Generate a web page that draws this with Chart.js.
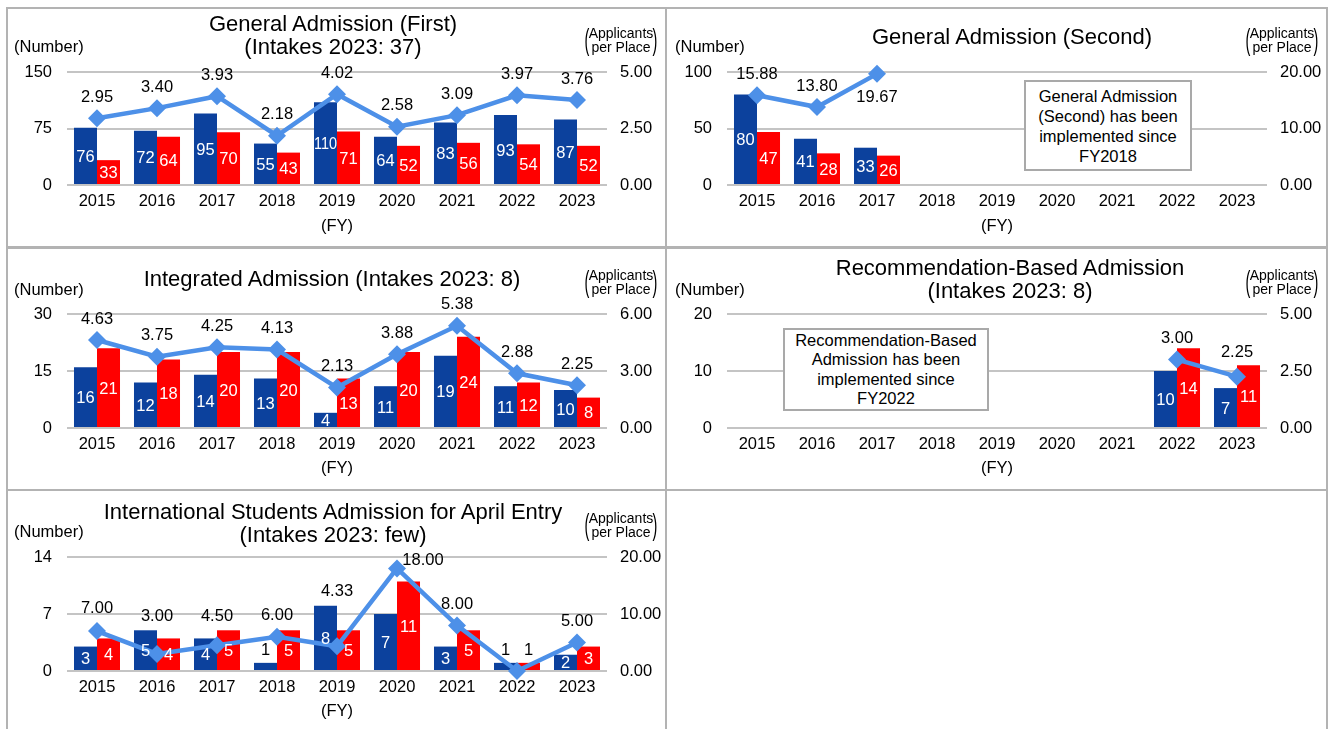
<!DOCTYPE html>
<html>
<head>
<meta charset="utf-8">
<title>Admission results</title>
<script src="https://cdn.jsdelivr.net/npm/chart.js@4.4.1/dist/chart.umd.min.js"></script>
<style>
  body { margin: 0; width: 1338px; height: 729px; overflow: hidden; position: relative; background: #fff;
         font-family: "Liberation Sans", Arial, sans-serif; color: #000; }
  .box { position: absolute; border: 2px solid #b3b3b3; box-sizing: border-box; }
  canvas { position: absolute; }
  .title { position: absolute; font-size: 22px; line-height: 23px; text-align: center; white-space: nowrap; transform: translateX(-50%); }
  .unit { position: absolute; font-size: 16.5px; line-height: 18px; white-space: nowrap; }
  .fy { position: absolute; font-size: 16.5px; line-height: 18px; transform: translateX(-50%); }
  .ratio-unit { position: absolute; display: flex; align-items: center; font-size: 14px; line-height: 14px; transform: translateX(-50%); white-space: nowrap; }
  .ratio-unit .p { font-size: 29px; line-height: 28px; display: inline-block; transform: scaleX(.5); margin: 0 -3px; }
  .ratio-unit .txt { text-align: center; }
  .note { position: absolute; background: #fff; border: 2px solid #a9a9a9; box-sizing: border-box; display: flex;
          align-items: center; justify-content: center; text-align: center; font-size: 16.5px; }
</style>
</head>
<body>
<div class="box" style="left:6px;top:7px;width:661px;height:242px"></div>
<div class="box" style="left:665px;top:7px;width:663px;height:242px"></div>
<div class="box" style="left:6px;top:246px;width:661px;height:245px"></div>
<div class="box" style="left:665px;top:246px;width:663px;height:245px"></div>
<div class="box" style="left:6px;top:489px;width:661px;height:260px"></div>
<div class="box" style="left:665px;top:489px;width:663px;height:260px"></div>
<script>
const years = ['2015', '2016', '2017', '2018', '2019', '2020', '2021', '2022', '2023'];

// General Admission (First)
const firstBlue = [76, 72, 95, 55, 110, 64, 83, 93, 87];
const firstRed = [33, 64, 70, 43, 71, 52, 56, 54, 52];
const firstRatio = [2.95, 3.40, 3.93, 2.18, 4.02, 2.58, 3.09, 3.97, 3.76];
const firstLeftTicks = [0, 75, 150];
const firstRightTicks = [0, 2.5, 5];

// General Admission (Second)
const secondBlue = [80, 41, 33, null, null, null, null, null, null];
const secondRed = [47, 28, 26, null, null, null, null, null, null];
const secondRatio = [15.88, 13.80, 19.67, null, null, null, null, null, null];
const secondLeftTicks = [0, 50, 100];
const secondRightTicks = [0, 10, 20];

// Integrated Admission
const integBlue = [16, 12, 14, 13, 4, 11, 19, 11, 10];
const integRed = [21, 18, 20, 20, 13, 20, 24, 12, 8];
const integRatio = [4.63, 3.75, 4.25, 4.13, 2.13, 3.88, 5.38, 2.88, 2.25];
const integLeftTicks = [0, 15, 30];
const integRightTicks = [0, 3, 6];

// Recommendation-Based Admission
const recBlue = [null, null, null, null, null, null, null, 10, 7];
const recRed = [null, null, null, null, null, null, null, 14, 11];
const recRatio = [null, null, null, null, null, null, null, 3.00, 2.25];
const recLeftTicks = [0, 10, 20];
const recRightTicks = [0, 2.5, 5];

// International Students Admission for April Entry
const intlBlue = [3, 5, 4, 1, 8, 7, 3, 1, 2];
const intlRed = [4, 4, 5, 5, 5, 11, 5, 1, 3];
const intlRatio = [7.00, 3.00, 4.50, 6.00, 4.33, 18.00, 8.00, 0, 5.00];
const intlLeftTicks = [0, 7, 14];
const intlRightTicks = [0, 10, 20];

const FONT = '"Liberation Sans", Arial, sans-serif';
const BLUE = '#0c419d';
const RED = '#ff0000';
const LINE = '#4d90e8';

Chart.defaults.font.family = FONT;
Chart.defaults.font.size = 16.5;
Chart.defaults.color = '#000';

// ratio labels sit above the point unless moved here
const valueLabels = {
    id: 'valueLabels',
    afterDatasetsDraw(chart, args, opts) {
        const ctx = chart.ctx;
        ctx.save();
        ctx.font = '16.5px ' + FONT;
        ctx.textAlign = 'center';
        ctx.textBaseline = 'middle';
        chart.data.datasets.forEach((ds, i) => {
            const meta = chart.getDatasetMeta(i);
            meta.data.forEach((el, j) => {
                const v = ds.data[j];
                if (v == null) return;
                if (ds.type === 'line') {
                    if (v <= 0) return;
                    const off = (opts.shift && opts.shift[j]) || [0, -21];
                    ctx.fillStyle = '#000';
                    ctx.fillText(v.toFixed(2), el.x + off[0], el.y + off[1]);
                } else {
                    const h = el.base - el.y;
                    if (h >= 14) {
                        ctx.fillStyle = '#fff';
                        ctx.fillText(String(v), el.x, (el.y + el.base) / 2 + 1.5, el.width);
                    } else {
                        ctx.fillStyle = '#000';
                        ctx.fillText(String(v), el.x, el.y - 12);
                    }
                }
            });
        });
        ctx.restore();
    }
};

const panels = [
    { left: 7, top: 8, width: 659, areaTop: 64, areaBottom: 177,
      blue: firstBlue, red: firstRed, ratio: firstRatio,
      leftTicks: firstLeftTicks, rightTicks: firstRightTicks, shift: {} },
    { left: 667, top: 8, width: 660, areaTop: 64, areaBottom: 177,
      blue: secondBlue, red: secondRed, ratio: secondRatio,
      leftTicks: secondLeftTicks, rightTicks: secondRightTicks, shift: { 2: [0, 24] } },
    { left: 7, top: 247, width: 659, areaTop: 67, areaBottom: 181,
      blue: integBlue, red: integRed, ratio: integRatio,
      leftTicks: integLeftTicks, rightTicks: integRightTicks, shift: {} },
    { left: 667, top: 247, width: 660, areaTop: 67, areaBottom: 181,
      blue: recBlue, red: recRed, ratio: recRatio,
      leftTicks: recLeftTicks, rightTicks: recRightTicks, shift: { 8: [0, -24] } },
    { left: 7, top: 490, width: 659, areaTop: 67, areaBottom: 181,
      blue: intlBlue, red: intlRed, ratio: intlRatio,
      leftTicks: intlLeftTicks, rightTicks: intlRightTicks,
      shift: { 0: [0, -23], 1: [0, -37], 2: [0, -29], 4: [0, -55], 5: [26, -8] } }
];

function drawPanel(p) {
    const H = 240;
    const canvas = document.createElement('canvas');
    canvas.width = p.width;
    canvas.height = H;
    canvas.style.left = p.left + 'px';
    canvas.style.top = p.top + 'px';
    canvas.style.width = p.width + 'px';
    canvas.style.height = H + 'px';
    document.body.appendChild(canvas);

    const lt = p.leftTicks, rt = p.rightTicks;

    new Chart(canvas, {
        type: 'bar',
        data: {
            labels: years,
            datasets: [
                {
                    type: 'line',
                    data: p.ratio,
                    yAxisID: 'y1',
                    order: 0,
                    borderColor: LINE,
                    backgroundColor: LINE,
                    borderWidth: 4.5,
                    pointStyle: 'rectRot',
                    pointRadius: 9,
                    pointBackgroundColor: LINE,
                    pointBorderWidth: 0,
                    tension: 0,
                    spanGaps: false,
                    clip: false
                },
                {
                    data: p.blue,
                    yAxisID: 'y',
                    order: 1,
                    backgroundColor: BLUE,
                    borderWidth: 0,
                    categoryPercentage: 0.767,
                    barPercentage: 1
                },
                {
                    data: p.red,
                    yAxisID: 'y',
                    order: 1,
                    backgroundColor: RED,
                    borderWidth: 0,
                    categoryPercentage: 0.767,
                    barPercentage: 1
                }
            ]
        },
        options: {
            responsive: false,
            animation: false,
            devicePixelRatio: 1,
            layout: { padding: { top: p.areaTop, left: 0, right: 0, bottom: 0 } },
            plugins: {
                legend: { display: false },
                tooltip: { enabled: false },
                valueLabels: { shift: p.shift }
            },
            scales: {
                x: {
                    grid: { display: false, drawTicks: false },
                    border: { display: false },
                    ticks: { padding: 7, maxRotation: 0, autoSkip: false },
                    afterFit(s) { s.height = H - p.areaBottom; }
                },
                y: {
                    position: 'left',
                    min: lt[0],
                    max: lt[lt.length - 1],
                    ticks: { stepSize: lt[1] - lt[0], padding: 15 },
                    grid: { color: '#c4c4c4', lineWidth: 2, drawTicks: false },
                    border: { display: false },
                    afterFit(s) { s.width = 60; }
                },
                y1: {
                    position: 'right',
                    min: rt[0],
                    max: rt[rt.length - 1],
                    ticks: { stepSize: rt[1] - rt[0], padding: 13, callback: v => v.toFixed(2) },
                    grid: { display: false, drawTicks: false },
                    border: { display: false },
                    afterFit(s) { s.width = p.width - 600; }
                }
            }
        },
        plugins: [valueLabels]
    });
}

panels.forEach(drawPanel);
</script>

<div class="title" style="left:333px;top:11.5px">General Admission (First)<br>(Intakes 2023: 37)</div>
<div class="title" style="left:1012px;top:24.5px">General Admission (Second)</div>
<div class="title" style="left:332px;top:266.5px">Integrated Admission (Intakes 2023: 8)</div>
<div class="title" style="left:1010px;top:255.5px">Recommendation-Based Admission<br>(Intakes 2023: 8)</div>
<div class="title" style="left:333px;top:499.5px">International Students Admission for April Entry<br>(Intakes 2023: few)</div>

<div class="unit" style="left:14px;top:37px">(Number)</div>
<div class="unit" style="left:675px;top:37px">(Number)</div>
<div class="unit" style="left:14px;top:280px">(Number)</div>
<div class="unit" style="left:675px;top:280px">(Number)</div>
<div class="unit" style="left:14px;top:522px">(Number)</div>

<div class="ratio-unit" style="left:621px;top:26px"><span class="p">(</span><span class="txt">Applicants<br>per Place</span><span class="p">)</span></div>
<div class="ratio-unit" style="left:1282px;top:26px"><span class="p">(</span><span class="txt">Applicants<br>per Place</span><span class="p">)</span></div>
<div class="ratio-unit" style="left:621px;top:268px"><span class="p">(</span><span class="txt">Applicants<br>per Place</span><span class="p">)</span></div>
<div class="ratio-unit" style="left:1282px;top:268px"><span class="p">(</span><span class="txt">Applicants<br>per Place</span><span class="p">)</span></div>
<div class="ratio-unit" style="left:621px;top:511px"><span class="p">(</span><span class="txt">Applicants<br>per Place</span><span class="p">)</span></div>

<div class="fy" style="left:337px;top:216px">(FY)</div>
<div class="fy" style="left:997px;top:216px">(FY)</div>
<div class="fy" style="left:337px;top:458px">(FY)</div>
<div class="fy" style="left:997px;top:458px">(FY)</div>
<div class="fy" style="left:337px;top:701px">(FY)</div>

<div class="note" style="left:1024px;top:80px;width:168px;height:91px;line-height:20px">General Admission<br>(Second) has been<br>implemented since<br>FY2018</div>
<div class="note" style="left:783px;top:328px;width:206px;height:83px;line-height:19.5px">Recommendation-Based<br>Admission has been<br>implemented since<br>FY2022</div>
</body>
</html>
